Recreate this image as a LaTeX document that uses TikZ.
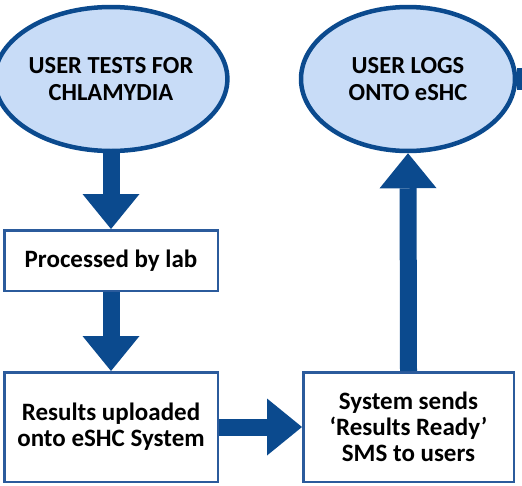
\documentclass[tikz,border=0pt]{standalone}
\usepackage{fontspec}
\setmainfont{Carlito}
\usetikzlibrary{arrows.meta,shapes.geometric}

\definecolor{darkblue}{HTML}{0B4A8E}
\definecolor{paleblue}{HTML}{C8DCF7}
\definecolor{boxblue}{HTML}{2B5B9C}

\tikzset{
  bubble/.style={ellipse, draw=darkblue, fill=paleblue, line width=4.5pt,
    inner sep=0pt, minimum width=214pt, minimum height=144pt,
    font=\bfseries\fontsize{24.5}{27}\selectfont, align=center},
  stepbox/.style={rectangle, draw=boxblue, line width=2.5pt, fill=white,
    inner sep=0pt, minimum width=213.5pt,
    font=\bfseries\fontsize{25}{26}\selectfont, align=center},
  fatarrow/.style={draw=darkblue, line width=17pt,
    -{Triangle[width=57pt,length=35pt,line width=0pt]}}
}

\begin{document}
\begin{tikzpicture}[x=1pt, y=-1pt]
    \useasboundingbox (0,0) rectangle (522,485);

    % the two ovals
    \node[bubble] (tests) at (111,79) {USER TESTS FOR\\CHLAMYDIA};
    \node[bubble] (logs) at (408,79) {USER LOGS\\ONTO eSHC};

    % the three steps
    \node[stepbox, minimum height=60.5pt] (lab) at (111,260.5) {Processed by lab};
    \node[stepbox, minimum height=109.5pt] (upload) at (111,427) {Results uploaded\\onto eSHC System};
    \node[stepbox, minimum width=210.5pt, minimum height=109.5pt] (sms) at (408.5,427)
      {System sends\\`Results Ready'\\SMS to users};

    \coordinate (edge) at (524,79);

    \draw[fatarrow] (tests.south) -- (lab.north);
    \draw[fatarrow] (lab.south) -- (upload.north);
    \draw[fatarrow] (upload.east) -- (sms.west);
    \draw[fatarrow] (sms.north) -- (logs.south);
    \draw[darkblue, line width=22pt] (logs.east) -- (edge);

\end{tikzpicture}
\end{document}
